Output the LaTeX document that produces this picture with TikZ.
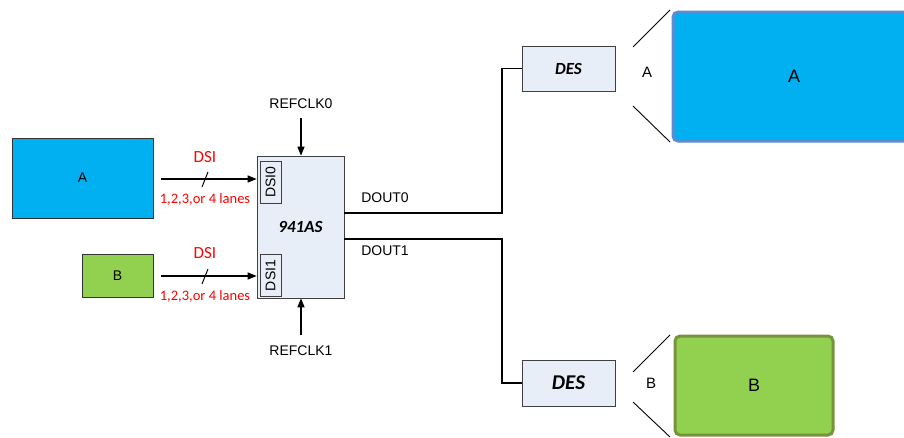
\documentclass[tikz,border=0pt]{standalone}
\usepackage{fontspec}
\setmainfont{Liberation Sans}
\newfontfamily\calib{Carlito}
\usepackage{xcolor}
\usetikzlibrary{arrows.meta,positioning,calc}

\definecolor{panelblue}{HTML}{00B0F0}
\definecolor{panelgreen}{HTML}{92D050}
\definecolor{chipfill}{HTML}{E8EEF8}
\definecolor{edgeblue}{HTML}{5B8BD0}
\definecolor{edgegreen}{HTML}{77933C}

\begin{document}
\begin{tikzpicture}[
  x=1pt,y=-1pt,
  panel/.style={draw=black!80, line width=0.6pt, minimum width=#1, font=\fontsize{14}{16}\selectfont},
  chip/.style={draw=black!75, line width=0.7pt, fill=chipfill, font=\calib\bfseries\itshape\fontsize{#1}{#1}\selectfont},
  port/.style={draw=black!75, line width=0.7pt, fill=chipfill, minimum width=21pt, minimum height=42pt, inner sep=0pt},
  display/.style={rounded corners=5pt, line width=3pt, font=\fontsize{18}{20}\selectfont},
  arrow/.style={-{Triangle[length=9pt,width=7pt]}, line width=1.3pt, draw=black},
  wire/.style={line width=1.4pt, draw=black},
  redtxt/.style={text=red, font=\calib\fontsize{#1}{#1}\selectfont, inner sep=1pt},
  lbl/.style={font=\fontsize{14}{16}\selectfont, inner sep=1pt}
]
\useasboundingbox (0,0) rectangle (904,437);

% sources
\node[panel=141pt, minimum height=80pt, fill=panelblue] (srcA) at (82.5,178) {A};
\node[panel=71pt, minimum height=43pt, fill=panelgreen] (srcB) at (117.5,275.5) {B};

% serializer
\node[chip=17, minimum width=87pt, minimum height=142pt] (ser) at (300.5,227) {941AS};
\node[port] (dsi0) at (270.5,182) {};
\node[port] (dsi1) at (270.5,275.5) {};
\node[rotate=90, font=\fontsize{14}{16}\selectfont, inner sep=0pt] (dsi0lbl) at (dsi0) {DSI0};
\node[rotate=90, font=\fontsize{14}{16}\selectfont, inner sep=0pt] (dsi1lbl) at (dsi1) {DSI1};

% DSI inputs
\coordinate (inA) at (161,179);
\coordinate (inB) at (161,276);
\draw[arrow] (inA) -- (ser.west |- inA);
\draw[arrow] (inB) -- (ser.west |- inB);
\draw[line width=1pt] ($(inA)+(41,8)$) -- ++(6,-15);
\draw[line width=1pt] ($(inB)+(41,8)$) -- ++(6,-15);
\node[redtxt=17] (dsiA) at (205,157) {DSI};
\node[redtxt=14.5] (lanesA) at (205,199) {1,2,3,or 4 lanes};
\node[redtxt=17] (dsiB) at (205,253) {DSI};
\node[redtxt=14.5] (lanesB) at (205,296) {1,2,3,or 4 lanes};

% reference clocks
\node[lbl] (clk0) at (301,104) {REFCLK0};
\node[lbl] (clk1) at (301,351) {REFCLK1};
\draw[arrow] (clk0.south |- 0,118) -- (ser.north -| clk0.south);
\draw[arrow] (clk1.north |- 0,335) -- (ser.south -| clk1.north);

% deserializers
\node[chip=17, minimum width=93pt, minimum height=45pt] (desA) at (568.5,68.5) {DES};
\node[chip=21, minimum width=93pt, minimum height=46pt] (desB) at (568.5,383) {DES};

% outputs
\coordinate (out0) at (344,213);
\coordinate (out1) at (344,239);
\draw[wire] (out0) -- (502,213) |- (desA.west);
\draw[wire] (out1) -- (502,239) |- (desB.west);
\node[lbl] (dout0) at (385,198) {DOUT0};
\node[lbl] (dout1) at (385,251) {DOUT1};

% displays
\node[display, draw=edgeblue, fill=panelblue, minimum width=242pt, minimum height=129pt] (dispA) at (794,76.5) {A};
\node[display, draw=edgegreen, fill=panelgreen, minimum width=158pt, minimum height=99pt] (dispB) at (754,385.5) {B};
\node[lbl, font=\fontsize{15}{17}\selectfont] (tagA) at (647,72) {A};
\node[lbl, font=\fontsize{15}{17}\selectfont] (tagB) at (651,383) {B};
\draw[line width=0.9pt] (633,47) -- (670,10);
\draw[line width=0.9pt] (633,106) -- (670,142);
\draw[line width=0.9pt] (633,372) -- (670,335);
\draw[line width=0.9pt] (633,402) -- (670,437);
\end{tikzpicture}
\end{document}
